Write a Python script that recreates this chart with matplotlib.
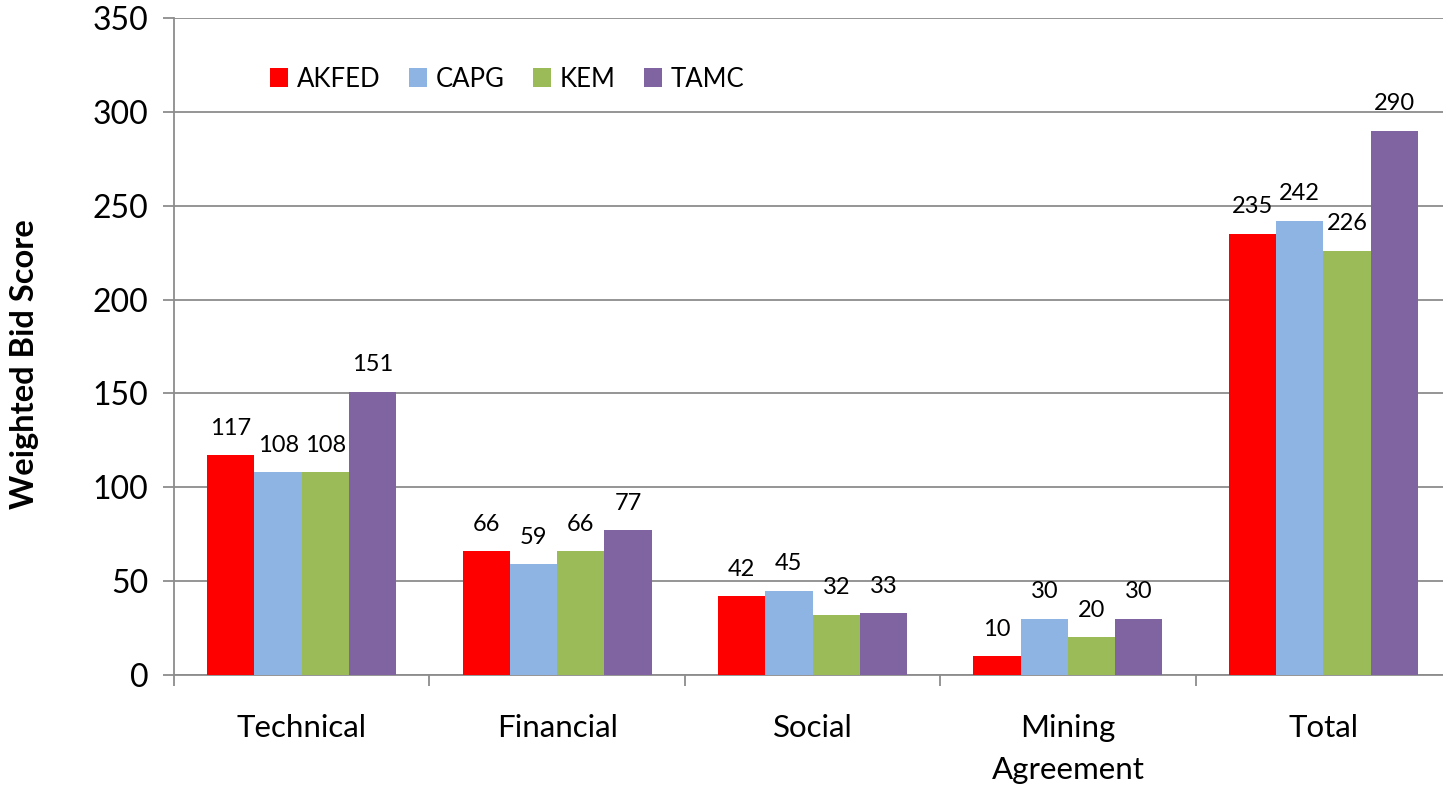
import numpy as np
import matplotlib
matplotlib.use("Agg")
import matplotlib.pyplot as plt
from matplotlib.patches import Patch

# ------------------------------------------------------------
# Data
# ------------------------------------------------------------
categories = ["Technical", "Financial", "Social", "Mining\nAgreement", "Total"]
bidders = ["AKFED", "CAPG", "KEM", "TAMC"]
akfed = [117, 66, 42, 10, 235]
capg = [108, 59, 45, 30, 242]
kem = [108, 66, 32, 20, 226]
tamc = [151, 77, 33, 30, 290]
y_ticks = [0, 50, 100, 150, 200, 250, 300, 350]

series = [akfed, capg, kem, tamc]
colors = ["#FF0000", "#8EB4E3", "#9BBB59", "#8064A2"]

FONT = "Lato"
GRID = "#8C8C8C"
DPI = 100

plt.rcParams["font.family"] = [FONT, "DejaVu Sans"]

fig = plt.figure(figsize=(14.43, 7.88), dpi=DPI)
ax = fig.add_axes([0.1206, 0.1434, 0.885, 0.8338])

x = np.arange(len(categories))
bar_w = 0.185
offsets = (np.arange(len(series)) - 1.5) * bar_w

for vals, off, col, name in zip(series, offsets, colors, bidders):
    bars = ax.bar(x + off, vals, width=bar_w, color=col, label=name, zorder=3)
    for b, v in zip(bars, vals):
        ax.annotate(f"{v}", (b.get_x() + b.get_width() / 2, v),
                    xytext=(0, 27 * 72 / DPI), textcoords="offset points",
                    ha="center", va="center", fontsize=17, color="black", zorder=4)

# axes / grid
ax.set_xlim(-0.5, len(categories) - 0.5)
ax.set_ylim(0, 350)
ax.set_yticks(y_ticks)
ax.yaxis.grid(True, color=GRID, lw=1.3, zorder=0)
ax.set_axisbelow(True)
for s in ["top", "right"]:
    ax.spines[s].set_visible(False)
for s in ["left", "bottom"]:
    ax.spines[s].set_color(GRID)
    ax.spines[s].set_linewidth(1.3)

ax.tick_params(axis="y", length=8, width=1.3, color=GRID, pad=10.5, labelsize=23)
ax.set_xticks(x)
ax.set_xticklabels(categories, fontsize=22.5, linespacing=1.6)
ax.tick_params(axis="x", which="major", length=0, pad=28)
ax.set_xticks(np.arange(-0.5, len(categories)), minor=True)
ax.tick_params(axis="x", which="minor", length=8, width=1.3, color=GRID)

ax.set_ylabel("Weighted Bid Score", fontsize=23.5, fontweight="bold", va="center")
ax.yaxis.set_label_coords(-0.1167, 0.473)

handles = [Patch(facecolor=c, edgecolor="none") for c in colors]
ax.legend(handles, bidders, loc="center left", bbox_to_anchor=(0.065, 0.907),
          ncol=4, frameon=False, fontsize=18.5, borderpad=0, handlelength=0.72,
          handleheight=0.72, handletextpad=0.33, columnspacing=1.1)

fig.savefig("out.png", dpi=DPI)
